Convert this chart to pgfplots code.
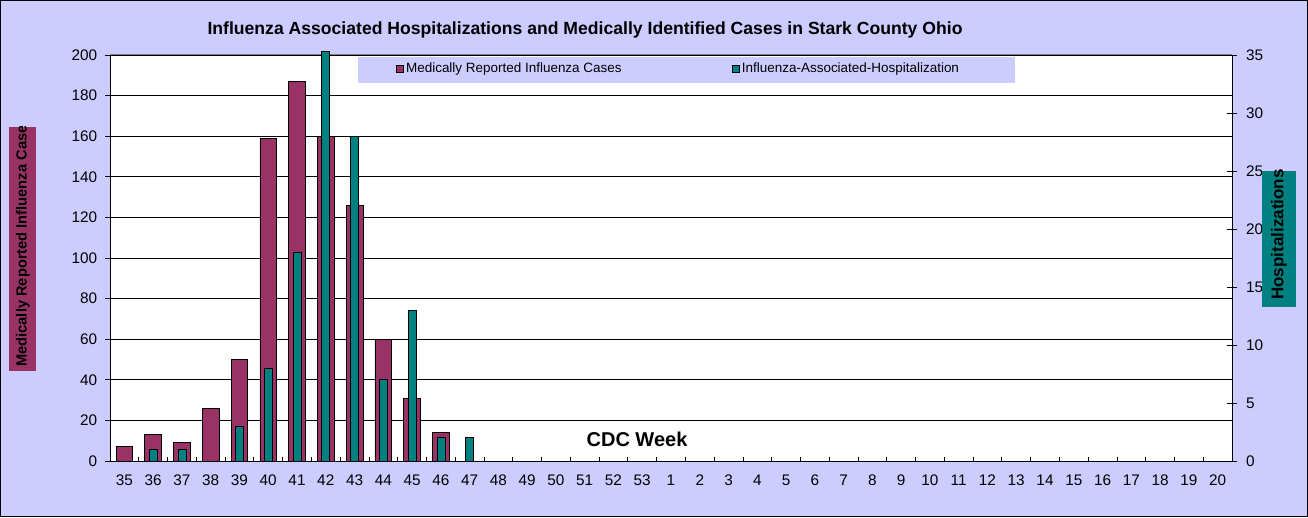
\documentclass[border=0pt]{standalone}
\usepackage{fontspec}
\setmainfont{Liberation Sans}
\usepackage{pgfplots}
\usepackage{pgfplotstable}
\pgfplotsset{compat=1.18}
\definecolor{lav}{HTML}{CCCCFF}
\definecolor{mycases}{HTML}{993366}
\definecolor{myhosp}{HTML}{008080}

\pgfplotstableread{
x y
0 7
1 13
2 9
3 26
4 50
5 159
6 187
7 160
8 126
9 60
10 31
11 14
}\cases

\pgfplotstableread{
x y
1 1
2 1
4 3
5 8
6 18
7 35.3
8 28
9 7
10 13
11 2
12 2
}\hosp

\begin{document}
\begin{tikzpicture}
\useasboundingbox (0pt,0pt) rectangle (981pt,387.75pt);
\fill[lav, draw=black, line width=0.75pt] (0.6pt,0.6pt) rectangle (980.4pt,387.15pt);

% title
\node[font=\bfseries\fontsize{13.2}{15}\selectfont, inner sep=0pt] at (438.75pt,365.25pt)
  {Influenza Associated Hospitalizations and Medically Identified Cases in Stark County Ohio};

\begin{axis}[
  at={(82.5pt,42pt)}, anchor=south west,
  scale only axis, width=841.5pt, height=304.5pt,
  xmin=-0.5, xmax=38.5, ymin=0, ymax=200,
  axis x line*=bottom, axis y line*=left,
  axis background/.style={fill=white},
  axis line style={black, line width=0.75pt},
  ytick={0,20,...,200},
  ymajorgrids, grid style={black, line width=0.7pt},
  xtick={0,...,38},
  xticklabels={35,36,37,38,39,40,41,42,43,44,45,46,47,48,49,50,51,52,53,1,2,3,4,5,6,7,8,9,10,11,12,13,14,15,16,17,18,19,20},
  major x tick style={draw=none},
  minor xtick={-0.5,0.5,...,38.5},
  minor x tick style={black, line width=0.6pt, yshift=3pt},
  minor tick length=3pt,
  tick align=outside,
  major tick length=3.75pt,
  y tick style={black, line width=0.6pt},
  tick label style={font=\fontsize{11.5}{13}\selectfont},
  yticklabel style={xshift=-2.4pt},
  xticklabel style={yshift=-3.3pt},
  /pgf/number format/assume math mode=true,
]
\draw[gray, line width=0.75pt] (rel axis cs:0,1) -- (rel axis cs:1,1);
\addplot[ybar, bar width=12.5pt, bar shift=0pt, fill=mycases, draw=black, line width=0.5pt]
  table[x=x, y=y] {\cases};
\end{axis}

\begin{axis}[
  at={(82.5pt,42pt)}, anchor=south west,
  scale only axis, width=841.5pt, height=304.5pt,
  xmin=-0.5, xmax=38.5, ymin=0, ymax=35,
  axis y line*=right, axis x line=none,
  axis line style={black, line width=0.75pt},
  ytick={0,5,...,35},
  tick align=center, major tick length=8pt,
  y tick style={black, line width=0.6pt},
  tick label style={font=\fontsize{11.5}{13}\selectfont},
  yticklabel style={xshift=3pt},
  /pgf/number format/assume math mode=true,
  clip=false,
  legend style={draw=none, fill=none, at={(0.2545,0.9655)}, anchor=west,
    legend columns=2, inner sep=0pt,
    font=\fontsize{10.1}{12}\selectfont,
    /tikz/every even column/.append style={column sep=80.5pt}},
  legend cell align=left,
]
\fill[lav] (axis description cs:0.2210,0.995) rectangle (axis description cs:0.8066,0.931);
\addlegendimage{legend image code/.code={\draw[fill=mycases, draw=black, line width=0.5pt] (0pt,-2.6pt) rectangle (5.2pt,2.6pt);}}
\addlegendentry{Medically Reported Influenza Cases}
\addlegendimage{legend image code/.code={\draw[fill=myhosp, draw=black, line width=0.5pt] (0pt,-2.6pt) rectangle (5.2pt,2.6pt);}}
\addlegendentry{Influenza-Associated-Hospitalization}
\addplot[ybar, bar width=6pt, bar shift=0pt, fill=myhosp, draw=black, line width=0.5pt, forget plot]
  table[x=x, y=y] {\hosp};
\end{axis}

% CDC Week
\node[font=\bfseries\fontsize{15}{17}\selectfont, inner sep=0pt] at (477.75pt,58.5pt) {CDC Week};

% left axis label
\begin{scope}
\clip (6.75pt,109.5pt) rectangle (27pt,292.5pt);
\fill[mycases] (6.75pt,109.5pt) rectangle (27pt,292.5pt);
\node[rotate=90, anchor=west, inner sep=0pt, font=\bfseries\fontsize{11}{12}\selectfont] at (17.2pt,112.5pt)
  {Medically Reported Influenza Cases};
\end{scope}

% right axis label
\fill[myhosp] (946.5pt,157.5pt) rectangle (972pt,259.5pt);
\node[rotate=90, anchor=west, inner sep=0pt, font=\bfseries\fontsize{12.75}{14}\selectfont] at (959.25pt,162.75pt)
  {Hospitalizations};
\end{tikzpicture}
\end{document}
